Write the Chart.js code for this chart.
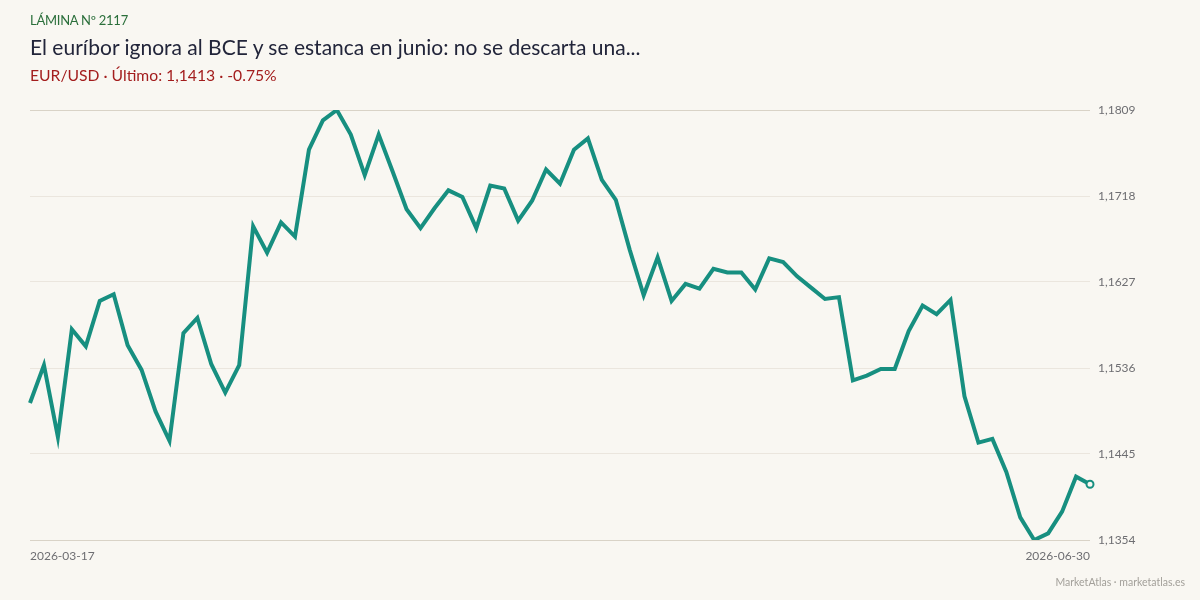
<!DOCTYPE html>
<html>
<head>
<meta charset="utf-8">
<script src="https://cdn.jsdelivr.net/npm/chart.js@4"></script>
<style>
  body { margin: 0; background: #f9f7f2; font-family: Lato, sans-serif; }
  #wrap { position: relative; width: 1200px; height: 600px; }
  #chart { position: absolute; left: 0; top: 0; }
  .kicker { position: absolute; left: 30px; top: 12px; font-size: 13px; letter-spacing: -0.25px; color: #2b6f3b; }
  .title { position: absolute; left: 30px; top: 34px; font-size: 21px; color: #22253a; }
  .sub { position: absolute; left: 30px; top: 66px; font-size: 15.7px; color: #a31d1d; }
  .foot { position: absolute; right: 15px; top: 576px; font-size: 10.5px; color: #a3a09a; }
</style>
</head>
<body>
<div id="wrap">
  <canvas id="chart" width="1200" height="600"></canvas>
  <div class="kicker">LÁMINA Nº 2117</div>
  <div class="title">El euríbor ignora al BCE y se estanca en junio: no se descarta una...</div>
  <div class="sub">EUR/USD · Último: 1,1413 · -0.75%</div>
  <div class="foot">MarketAtlas · marketatlas.es</div>
</div>
<script>
var dateLabels = ['2026-03-17', '2026-06-30'];
var eurusd = [
  1.1499, 1.1539, 1.1463, 1.1577, 1.1559, 1.1607, 1.1614, 1.1560, 1.1534, 1.1490,
  1.1459, 1.1573, 1.1589, 1.1540, 1.1510, 1.1539, 1.1686, 1.1658, 1.1690, 1.1675,
  1.1767, 1.1798, 1.1809, 1.1783, 1.1740, 1.1783, 1.1744, 1.1704, 1.1684, 1.1705,
  1.1724, 1.1717, 1.1684, 1.1729, 1.1726, 1.1692, 1.1713, 1.1746, 1.1731, 1.1767,
  1.1779, 1.1735, 1.1714, 1.1661, 1.1613, 1.1653, 1.1607, 1.1625, 1.1620, 1.1641,
  1.1637, 1.1637, 1.1619, 1.1652, 1.1648, 1.1633, 1.1621, 1.1609, 1.1611, 1.1523,
  1.1528, 1.1535, 1.1535, 1.1575, 1.1602, 1.1593, 1.1608, 1.1506, 1.1457, 1.1461,
  1.1426, 1.1378, 1.1354, 1.1361, 1.1384, 1.1421, 1.1413
];
var yTicks = [1.1354, 1.1445, 1.1536, 1.1627, 1.1718, 1.1809];

var n = eurusd.length;
var labels = eurusd.map(function (v, i) { return i; });

new Chart(document.getElementById('chart'), {
  type: 'line',
  data: {
    labels: labels,
    datasets: [{
      data: eurusd,
      borderColor: '#178f80',
      borderWidth: 4,
      tension: 0,
      pointRadius: function (ctx) { return ctx.dataIndex === n - 1 ? 3.5 : 0; },
      pointBackgroundColor: '#f9f7f2',
      pointBorderColor: '#178f80',
      pointBorderWidth: 2
    }]
  },
  options: {
    responsive: false,
    animation: false,
    layout: { padding: { left: 30, top: 110, right: 0, bottom: 0 } },
    plugins: { legend: { display: false }, tooltip: { enabled: false } },
    scales: {
      x: {
        grid: { display: false },
        border: { display: false },
        ticks: {
          autoSkip: false,
          maxRotation: 0,
          align: 'inner',
          padding: 1,
          color: '#6e6e72',
          font: { family: 'Lato', size: 12 },
          callback: function (v, i) {
            if (i === 0) return dateLabels[0];
            if (i === n - 1) return dateLabels[1];
            return '';
          }
        },
        afterFit: function (s) { s.height = 60; }
      },
      y: {
        position: 'right',
        min: yTicks[0],
        max: yTicks[yTicks.length - 1],
        afterBuildTicks: function (s) { s.ticks = yTicks.map(function (v) { return { value: v }; }); },
        grid: {
          drawTicks: false,
          color: function (ctx) {
            return (ctx.index === 0 || ctx.index === yTicks.length - 1) ? '#d9d3c7' : '#ebe6de';
          }
        },
        border: { display: false },
        ticks: {
          padding: 8,
          color: '#6e6e72',
          font: { family: 'Lato', size: 12 },
          callback: function (v) { return v.toFixed(4).replace('.', ','); }
        },
        afterFit: function (s) { s.width = 110; }
      }
    }
  }
});
</script>
</body>
</html>
